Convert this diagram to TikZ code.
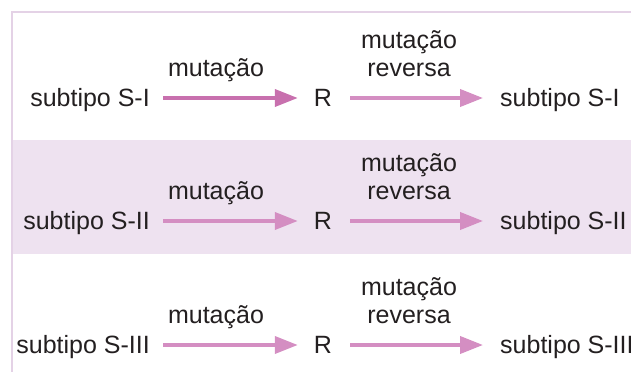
\documentclass[tikz,border=0pt]{standalone}
\usepackage{fontspec}
\setmainfont{Liberation Sans}
\usetikzlibrary{arrows.meta}
\definecolor{arrdark}{HTML}{C870AE}
\definecolor{arrlight}{HTML}{D48EC2}
\definecolor{bandcol}{HTML}{EEE2F0}
\definecolor{rulecol}{HTML}{E4D2E6}
\definecolor{txt}{HTML}{231F20}
\tikzset{
  lbl/.style={inner sep=0pt, text=txt, font=\fontsize{25}{28}\selectfont, text height=17pt, text depth=0pt},
  toplbl/.style={inner sep=0pt, text=txt, font=\fontsize{25}{28}\selectfont, align=center, anchor=base},
  arr/.style={line width=3.8pt, -{Triangle[length=23pt,width=17pt]}},
}
\begin{document}
\begin{tikzpicture}[x=1pt,y=1pt]
\useasboundingbox (0,0) rectangle (631,-372);
% band and rules
\fill[bandcol] (13,-140) rectangle (631,-254);
\draw[rulecol, line width=2pt] (631,-12) -- (11.5,-12) -- (11.5,-372);
% rows
\foreach \i/\yy/\nm/\ca in {1/98/I/arrdark, 2/221/II/arrlight, 3/345/III/arrlight}{
  \node[lbl, anchor=east] (l\i) at (150,-\yy) {subtipo S-\nm};
  \node[lbl, anchor=center] (r\i) at (323,-\yy) {R};
  \node[lbl, anchor=west] (e\i) at (500,-\yy) {subtipo S-\nm};
  \draw[arr, \ca, shorten <=13pt, shorten >=16pt] (l\i.east) -- (r\i.west);
  \draw[arr, arrlight, shorten <=18pt, shorten >=17pt] (r\i.east) -- (e\i.west);
  \node[toplbl] (m\i) at (216,-\yy+22) {mutação};
  \node[toplbl] (mr\i) at (409,-\yy+22) {mutação\\reversa};
}
\end{tikzpicture}
\end{document}
